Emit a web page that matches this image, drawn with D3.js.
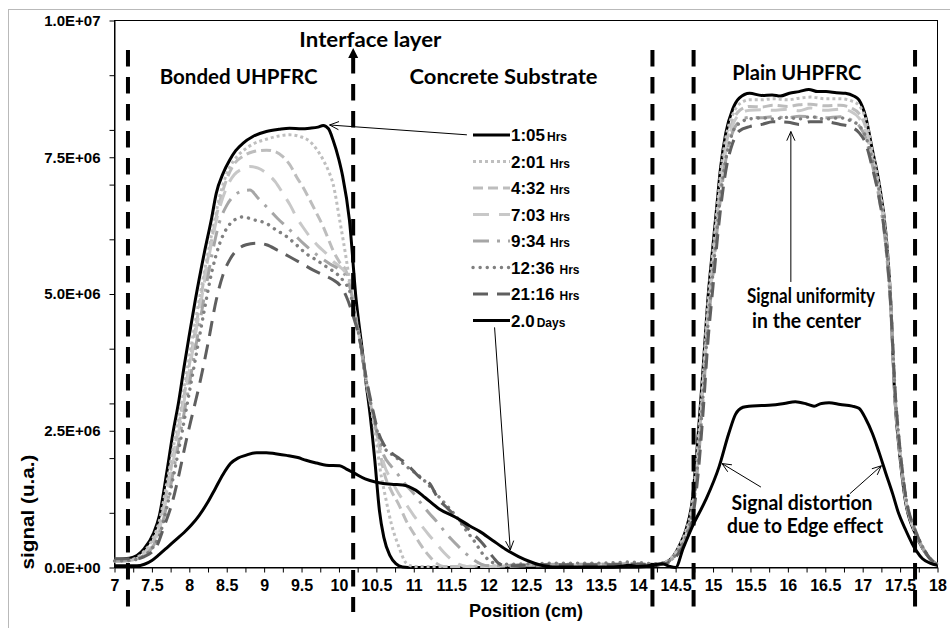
<!DOCTYPE html>
<html><head><meta charset="utf-8">
<script src="https://cdn.jsdelivr.net/npm/d3@7/dist/d3.min.js"></script>
<style>body{margin:0;background:#fff}svg{display:block}</style>
</head><body><svg id="c" width="950" height="628"></svg>
<script>
// ---------------- DATA ----------------
const seriesTimes = ["1:05","2:01","4:32","7:03","9:34","12:36","21:16","2.0"];
const seriesUnits = ["Hrs","Hrs","Hrs","Hrs","Hrs","Hrs","Hrs","Days"];

// [position (cm), signal (1e6 u.a.)]
const s0105 = [[7.0,0.15],[7.2,0.17],[7.3,0.22],[7.4,0.35],[7.52,0.62],[7.6,0.95],[7.7,1.75],[7.78,2.45],[7.86,3.05],[7.93,3.67],[8.0,4.25],[8.08,4.89],[8.2,5.75],[8.3,6.4],[8.36,6.84],[8.45,7.2],[8.54,7.45],[8.62,7.62],[8.72,7.76],[8.85,7.88],[9.03,7.97],[9.2,8.01],[9.34,8.03],[9.5,8.02],[9.61,8.03],[9.72,8.05],[9.79,8.08],[9.86,8.02],[9.92,7.82],[10.0,7.45],[10.05,7.15],[10.14,6.35],[10.23,4.89],[10.3,4.1],[10.36,3.4],[10.42,2.75],[10.48,1.95],[10.54,1.05],[10.6,0.55],[10.68,0.22],[10.76,0.07],[10.85,0.01],[11.0,0],[12.0,0],[13.0,0],[14.0,0.01],[14.2,0.03],[14.35,0.08],[14.46,0.19],[14.55,0.4],[14.64,0.7],[14.72,1.2],[14.8,2.4],[14.87,3.7],[14.93,4.89],[15.0,5.9],[15.05,6.6],[15.1,7.3],[15.17,7.94],[15.26,8.37],[15.35,8.58],[15.49,8.67],[15.65,8.63],[15.79,8.64],[15.9,8.62],[16.02,8.67],[16.15,8.7],[16.28,8.74],[16.4,8.7],[16.51,8.7],[16.65,8.68],[16.77,8.67],[16.88,8.62],[16.95,8.55],[17.04,8.24],[17.13,7.63],[17.22,7.02],[17.31,6.11],[17.37,5.0],[17.43,3.1],[17.5,2.0],[17.57,1.23],[17.71,0.6],[17.8,0.35],[17.88,0.19],[18.0,0.04]];
const s0201 = [[7.0,0.12],[7.2,0.14],[7.3,0.18],[7.4,0.3],[7.52,0.55],[7.6,0.85],[7.7,1.55],[7.8,2.3],[7.9,3.05],[8.0,3.85],[8.1,4.65],[8.2,5.4],[8.3,6.1],[8.4,6.75],[8.5,7.2],[8.6,7.45],[8.72,7.62],[8.85,7.74],[9.03,7.83],[9.2,7.89],[9.34,7.91],[9.5,7.87],[9.61,7.79],[9.7,7.65],[9.79,7.45],[9.86,7.25],[9.92,7.02],[10.01,6.35],[10.1,5.62],[10.16,5.07],[10.22,4.6],[10.28,4.15],[10.36,3.43],[10.45,2.75],[10.5,2.3],[10.55,1.8],[10.62,1.3],[10.7,0.8],[10.8,0.38],[10.9,0.08],[11.0,0.02],[11.5,0.02],[12.0,0.03],[12.5,0.05],[13.0,0.05],[13.5,0.06],[14.0,0.07],[14.2,0.06],[14.35,0.09],[14.46,0.2],[14.55,0.4],[14.64,0.68],[14.72,1.15],[14.8,2.3],[14.87,3.6],[14.93,4.8],[15.0,5.8],[15.05,6.5],[15.1,7.2],[15.17,7.85],[15.26,8.27],[15.35,8.47],[15.49,8.55],[15.65,8.55],[15.8,8.57],[16.0,8.55],[16.15,8.58],[16.3,8.6],[16.5,8.57],[16.7,8.57],[16.85,8.53],[16.95,8.45],[17.04,8.2],[17.13,7.6],[17.22,7.0],[17.31,6.1],[17.37,5.0],[17.43,3.15],[17.5,2.05],[17.57,1.28],[17.71,0.62],[17.8,0.36],[17.88,0.2],[18.0,0.05]];
const s0432 = [[7.0,0.12],[7.2,0.13],[7.3,0.16],[7.4,0.26],[7.52,0.48],[7.6,0.75],[7.7,1.4],[7.8,2.15],[7.9,2.9],[8.0,3.7],[8.1,4.5],[8.2,5.3],[8.3,6.0],[8.4,6.65],[8.5,7.1],[8.6,7.38],[8.72,7.52],[8.85,7.6],[9.03,7.63],[9.15,7.6],[9.25,7.51],[9.35,7.35],[9.43,7.15],[9.52,6.95],[9.61,6.72],[9.7,6.48],[9.79,6.23],[9.86,6.0],[9.92,5.8],[10.0,5.6],[10.1,5.4],[10.16,5.1],[10.22,4.6],[10.28,4.15],[10.36,3.45],[10.45,2.8],[10.52,2.35],[10.6,1.75],[10.7,1.4],[10.8,1.15],[10.9,0.85],[11.0,0.62],[11.1,0.4],[11.2,0.22],[11.3,0.08],[11.4,0.02],[12.0,0.02],[12.5,0.04],[13.0,0.04],[13.5,0.05],[14.0,0.06],[14.2,0.05],[14.35,0.08],[14.46,0.18],[14.55,0.36],[14.64,0.62],[14.72,1.05],[14.8,2.1],[14.87,3.4],[14.93,4.6],[15.0,5.6],[15.05,6.35],[15.1,7.0],[15.17,7.7],[15.26,8.15],[15.35,8.35],[15.49,8.43],[15.65,8.42],[15.8,8.45],[16.0,8.43],[16.15,8.46],[16.3,8.47],[16.5,8.44],[16.7,8.45],[16.85,8.4],[16.95,8.3],[17.04,8.05],[17.13,7.5],[17.22,6.9],[17.31,6.0],[17.37,4.95],[17.43,3.2],[17.5,2.1],[17.57,1.3],[17.71,0.63],[17.8,0.37],[17.88,0.2],[18.0,0.05]];
const s0703 = [[7.0,0.12],[7.2,0.13],[7.3,0.15],[7.4,0.24],[7.52,0.45],[7.6,0.7],[7.7,1.3],[7.8,2.05],[7.9,2.8],[8.0,3.6],[8.1,4.4],[8.2,5.2],[8.3,5.95],[8.4,6.55],[8.5,6.95],[8.6,7.18],[8.7,7.28],[8.81,7.33],[8.92,7.3],[9.03,7.21],[9.15,7.05],[9.25,6.84],[9.35,6.62],[9.43,6.41],[9.52,6.22],[9.61,6.05],[9.72,5.88],[9.83,5.74],[9.92,5.6],[10.01,5.5],[10.1,5.35],[10.16,5.1],[10.22,4.62],[10.28,4.15],[10.36,3.45],[10.45,2.82],[10.52,2.4],[10.6,1.9],[10.7,1.6],[10.8,1.35],[10.9,1.15],[11.0,0.95],[11.1,0.77],[11.2,0.6],[11.3,0.44],[11.4,0.28],[11.5,0.15],[11.6,0.06],[11.7,0.02],[12.0,0.02],[12.5,0.03],[13.0,0.04],[13.5,0.04],[14.0,0.05],[14.2,0.05],[14.35,0.08],[14.46,0.17],[14.55,0.34],[14.64,0.6],[14.72,1.0],[14.8,2.0],[14.87,3.3],[14.93,4.5],[15.0,5.5],[15.05,6.25],[15.1,6.9],[15.17,7.6],[15.26,8.08],[15.35,8.28],[15.49,8.36],[15.65,8.37],[15.8,8.36],[16.0,8.38],[16.15,8.35],[16.3,8.4],[16.5,8.36],[16.7,8.38],[16.85,8.33],[16.95,8.22],[17.04,7.98],[17.13,7.45],[17.22,6.85],[17.31,5.95],[17.37,4.9],[17.43,3.2],[17.5,2.1],[17.57,1.3],[17.71,0.63],[17.8,0.37],[17.88,0.2],[18.0,0.05]];
const s0934 = [[7.0,0.12],[7.2,0.13],[7.3,0.15],[7.4,0.22],[7.52,0.4],[7.6,0.62],[7.7,1.15],[7.8,1.85],[7.9,2.6],[8.0,3.35],[8.1,4.15],[8.2,4.95],[8.3,5.7],[8.4,6.3],[8.5,6.62],[8.6,6.8],[8.7,6.88],[8.81,6.9],[8.92,6.75],[9.07,6.54],[9.18,6.38],[9.3,6.23],[9.41,6.08],[9.52,5.93],[9.63,5.8],[9.74,5.68],[9.88,5.55],[10.01,5.44],[10.1,5.3],[10.16,5.05],[10.22,4.6],[10.28,4.15],[10.36,3.45],[10.45,2.82],[10.52,2.4],[10.6,2.05],[10.7,1.85],[10.8,1.68],[10.9,1.5],[11.0,1.35],[11.1,1.17],[11.2,1.0],[11.3,0.85],[11.4,0.68],[11.5,0.52],[11.6,0.38],[11.7,0.25],[11.8,0.14],[11.9,0.06],[12.0,0.03],[12.5,0.05],[13.0,0.06],[13.5,0.06],[14.0,0.07],[14.2,0.06],[14.35,0.08],[14.46,0.16],[14.55,0.32],[14.64,0.55],[14.72,0.95],[14.8,1.9],[14.87,3.15],[14.93,4.35],[15.0,5.35],[15.05,6.1],[15.1,6.75],[15.17,7.45],[15.26,7.95],[15.35,8.15],[15.49,8.23],[15.65,8.22],[15.8,8.24],[16.0,8.22],[16.15,8.25],[16.3,8.24],[16.5,8.22],[16.7,8.24],[16.85,8.18],[16.95,8.08],[17.04,7.85],[17.13,7.35],[17.22,6.75],[17.31,5.85],[17.37,4.85],[17.43,3.2],[17.5,2.1],[17.57,1.3],[17.71,0.63],[17.8,0.37],[17.88,0.2],[18.0,0.05]];
const s1236 = [[7.0,0.12],[7.2,0.13],[7.3,0.15],[7.4,0.22],[7.52,0.38],[7.6,0.58],[7.7,1.1],[7.8,1.75],[7.9,2.45],[8.0,3.2],[8.1,3.95],[8.2,4.7],[8.3,5.4],[8.4,5.9],[8.5,6.2],[8.6,6.35],[8.72,6.41],[8.85,6.36],[9.03,6.29],[9.15,6.18],[9.3,6.05],[9.43,5.9],[9.56,5.74],[9.7,5.62],[9.83,5.5],[9.92,5.42],[10.01,5.32],[10.08,5.2],[10.14,5.07],[10.2,4.7],[10.28,4.15],[10.36,3.45],[10.45,2.85],[10.52,2.45],[10.6,2.2],[10.76,2.02],[10.9,1.85],[11.03,1.72],[11.17,1.55],[11.3,1.35],[11.43,1.15],[11.57,0.93],[11.7,0.68],[11.83,0.44],[11.92,0.25],[12.01,0.13],[12.1,0.07],[12.3,0.06],[12.6,0.07],[13.0,0.08],[13.5,0.08],[13.9,0.1],[14.1,0.08],[14.2,0.07],[14.35,0.09],[14.46,0.17],[14.55,0.33],[14.64,0.58],[14.72,1.0],[14.8,1.95],[14.87,3.2],[14.93,4.4],[15.0,5.4],[15.05,6.15],[15.1,6.8],[15.17,7.45],[15.26,7.95],[15.35,8.12],[15.49,8.2],[15.65,8.22],[15.8,8.2],[16.0,8.23],[16.15,8.2],[16.3,8.24],[16.5,8.2],[16.7,8.22],[16.85,8.16],[16.95,8.08],[17.04,7.88],[17.13,7.45],[17.22,6.9],[17.31,6.0],[17.37,4.95],[17.43,3.3],[17.5,2.15],[17.57,1.35],[17.71,0.65],[17.8,0.38],[17.88,0.2],[18.0,0.05]];
const s2116 = [[7.0,0.16],[7.2,0.16],[7.29,0.16],[7.4,0.2],[7.56,0.38],[7.65,0.7],[7.78,1.23],[7.87,1.75],[7.96,2.33],[8.05,2.85],[8.14,3.37],[8.25,4.1],[8.36,4.89],[8.45,5.35],[8.55,5.65],[8.65,5.82],[8.76,5.9],[8.9,5.93],[9.03,5.9],[9.18,5.8],[9.34,5.68],[9.5,5.56],[9.65,5.44],[9.79,5.35],[9.92,5.26],[10.02,5.15],[10.1,4.95],[10.19,4.6],[10.28,4.15],[10.36,3.5],[10.45,2.9],[10.52,2.5],[10.6,2.25],[10.7,2.1],[10.81,1.99],[10.9,1.9],[11.08,1.65],[11.21,1.54],[11.34,1.23],[11.43,1.11],[11.6,0.88],[11.79,0.62],[11.92,0.44],[12.06,0.19],[12.14,0.07],[12.25,0.03],[12.5,0.04],[13.0,0.05],[13.5,0.05],[14.0,0.06],[14.2,0.05],[14.35,0.07],[14.46,0.14],[14.55,0.28],[14.64,0.5],[14.72,0.85],[14.8,1.7],[14.87,2.9],[14.93,4.1],[15.0,5.15],[15.05,5.9],[15.1,6.55],[15.17,7.25],[15.26,7.75],[15.35,7.98],[15.49,8.06],[15.65,8.1],[15.8,8.15],[16.0,8.14],[16.15,8.1],[16.3,8.15],[16.5,8.15],[16.7,8.1],[16.85,8.05],[16.95,7.95],[17.04,7.75],[17.13,7.3],[17.22,6.75],[17.31,5.9],[17.37,4.9],[17.43,3.3],[17.5,2.15],[17.57,1.35],[17.71,0.66],[17.8,0.38],[17.88,0.2],[18.0,0.05]];
const s2day = [[7.0,0.03],[7.3,0.03],[7.4,0.06],[7.5,0.13],[7.6,0.24],[7.7,0.36],[7.83,0.52],[7.93,0.64],[8.03,0.78],[8.13,0.95],[8.25,1.2],[8.35,1.45],[8.45,1.7],[8.55,1.9],[8.65,2.0],[8.75,2.05],[8.9,2.1],[9.03,2.1],[9.15,2.08],[9.3,2.05],[9.45,2.01],[9.56,1.96],[9.7,1.91],[9.83,1.87],[10.01,1.86],[10.1,1.8],[10.21,1.72],[10.35,1.62],[10.5,1.56],[10.7,1.52],[10.85,1.51],[11.03,1.41],[11.15,1.28],[11.34,1.07],[11.57,0.91],[11.75,0.76],[11.88,0.66],[12.05,0.5],[12.23,0.33],[12.4,0.2],[12.55,0.11],[12.68,0.05],[12.86,0.01],[13.2,0.01],[13.6,0.01],[13.75,0.02],[13.88,0.04],[14.0,0.02],[14.19,0.04],[14.32,0.07],[14.42,0.02],[14.5,0.0],[14.6,0.35],[14.72,0.74],[14.9,1.23],[15.08,1.84],[15.21,2.45],[15.3,2.8],[15.4,2.93],[15.48,2.95],[15.65,2.96],[15.79,2.97],[15.95,3.0],[16.1,3.03],[16.25,2.99],[16.35,2.95],[16.45,3.0],[16.55,3.01],[16.7,2.98],[16.86,2.95],[16.95,2.91],[17.04,2.72],[17.13,2.45],[17.22,2.1],[17.31,1.72],[17.4,1.35],[17.48,0.99],[17.57,0.7],[17.66,0.44],[17.72,0.3],[17.8,0.16],[17.9,0.08],[18.0,0.04]];
const seriesData = [s0105, s0201, s0432, s0703, s0934, s1236, s2116, s2day];

const dividerPositions = [7.18, 10.19, 14.19, 14.74, 17.70];
const yLabelValues = [0, 2.5, 5, 7.5, 10];
const yTickLabels = ["0.0E+00","2.5E+06","5.0E+06","7.5E+06","1.0E+07"];
const yMinorValues = [0,1,2,3,4,5,6,7,8,9,10];
const xLabelValues = [7,7.5,8,8.5,9,9.5,10,10.5,11,11.5,12,12.5,13,13.5,14,14.5,15,15.5,16,16.5,17,17.5,18];
const xTickLabels = ["7","7.5","8","8.5","9","9.5","10","10.5","11","11.5","12","12.5","13","13.5","14","14.5","15","15.5","16","16.5","17","17.5","18"];

// ---------------- STYLES ----------------
const seriesStyles = [
  {stroke:"#000000", width:3,   dash:null,          cap:"butt"},
  {stroke:"#bfbfbf", width:3,   dash:"3,3",         cap:"butt"},
  {stroke:"#bdbdbd", width:3,   dash:"10,5",        cap:"butt"},
  {stroke:"#c8c8c8", width:3,   dash:"16,10",       cap:"butt"},
  {stroke:"#a6a6a6", width:3,   dash:"16,8,3,8",    cap:"butt"},
  {stroke:"#808080", width:3.4, dash:"0.1,7",       cap:"round"},
  {stroke:"#5f5f5f", width:3,   dash:"15,9",        cap:"butt"},
  {stroke:"#000000", width:3,   dash:null,          cap:"butt"}
];
const AX = "'Liberation Sans', Arial, sans-serif";
const AN = "Lato, 'Open Sans', sans-serif";

// ---------------- CHART ----------------
const svg = d3.select("#c");
svg.append("rect").attr("width",950).attr("height",628).attr("fill","#fff");
svg.append("rect").attr("x",8.5).attr("y",9.5).attr("width",980).attr("height",660)
  .attr("fill","none").attr("stroke","#b9b9b9").attr("stroke-width",1);

const x = d3.scaleLinear().domain([7,18]).range([114.5,937.5]);
const y = d3.scaleLinear().domain([0,10]).range([567.5,20.5]);

// axes
const yAxis = d3.axisLeft(y).tickValues(Array.from(new Set(yMinorValues.concat(yLabelValues))))
  .tickSize(5).tickSizeOuter(0).tickPadding(9)
  .tickFormat(d => { const i = yLabelValues.indexOf(d); return i >= 0 ? yTickLabels[i] : ""; });
const gy = svg.append("g").attr("transform",`translate(${x(7)},0)`).call(yAxis);
gy.selectAll("text").attr("font-family",AX).attr("font-weight","bold").attr("font-size","15px").attr("fill","#000");
gy.selectAll("line").attr("stroke","#000");

const xMinor = d3.range(7, 18.001, 0.25);
const xAxis = d3.axisBottom(x).tickValues(xMinor).tickSize(5).tickSizeOuter(0).tickPadding(7)
  .tickFormat(d => { const i = xLabelValues.indexOf(d); return i >= 0 ? xTickLabels[i] : ""; });
const gx = svg.append("g").attr("transform",`translate(0,${y(0)})`).call(xAxis);
gx.selectAll("text").attr("font-family",AX).attr("font-weight","bold").attr("font-size","16px").attr("fill","#000");
gx.selectAll("line").attr("stroke","#000");

// plot frame
svg.append("rect").attr("x",x(7)).attr("y",y(10)).attr("width",x(18)-x(7)).attr("height",y(0)-y(10))
  .attr("fill","none").attr("stroke","#000").attr("stroke-width",1);

// axis titles
svg.append("text").attr("x",526).attr("y",617).attr("text-anchor","middle")
  .attr("font-family",AX).attr("font-weight","bold").attr("font-size","18px").text("Position (cm)");
svg.append("text").attr("transform","translate(34,512) rotate(-90)").attr("text-anchor","middle")
  .attr("font-family",AX).attr("font-weight","bold").attr("font-size","19px")
  .attr("textLength",115).attr("lengthAdjust","spacingAndGlyphs").text("signal (u.a.)");

// series
const line = d3.line().x(d => x(d[0])).y(d => y(d[1])).curve(d3.curveMonotoneX);
const gs = svg.append("g");
seriesData.forEach((s, i) => {
  const st = seriesStyles[i];
  gs.append("path").datum(s).attr("d", line).attr("fill","none")
    .attr("stroke", st.stroke).attr("stroke-width", st.width)
    .attr("stroke-dasharray", st.dash).attr("stroke-linecap", st.cap).attr("stroke-linejoin","round");
});

// dividers
dividerPositions.forEach((p, i) => {
  svg.append("line").attr("x1",x(p)).attr("x2",x(p)).attr("y1", i===1 ? 57 : 50).attr("y2",612)
    .attr("stroke","#000").attr("stroke-width",4).attr("stroke-dasharray","16.5,10.5");
});
svg.append("path").attr("d",`M${x(10.19)-5},58 L${x(10.19)},48 L${x(10.19)+5},58 Z`).attr("fill","#000");

// annotation texts (positions in data units)
const notes = [
  {t:"Bonded UHPFRC", px:8.66, py:8.84, w:158},
  {t:"Interface layer", px:10.42, py:9.51, w:142},
  {t:"Concrete Substrate", px:12.2, py:8.84, w:188},
  {t:"Plain UHPFRC", px:16.12, py:8.92, w:129},
  {t:"Signal uniformity", px:16.31, py:4.83, w:128},
  {t:"in the center", px:16.25, py:4.38, w:109},
  {t:"Signal distortion", px:16.19, py:1.05, w:141},
  {t:"due to Edge effect", px:16.23, py:0.63, w:156}
];
notes.forEach(n => {
  svg.append("text").attr("x",x(n.px)).attr("y",y(n.py)).attr("text-anchor","middle")
    .attr("font-family",AN).attr("font-weight","bold").attr("font-size","20px")
    .attr("textLength",n.w).attr("lengthAdjust","spacingAndGlyphs").text(n.t);
});

// arrows
function arrow(x1,y1,x2,y2){
  const X1=x(x1),Y1=y(y1),X2=x(x2),Y2=y(y2);
  svg.append("line").attr("x1",X1).attr("y1",Y1).attr("x2",X2).attr("y2",Y2).attr("stroke","#000").attr("stroke-width",1);
  const a = Math.atan2(Y1-Y2, X1-X2), L = 10, s = 0.42;
  svg.append("path").attr("d",`M${X2+L*Math.cos(a+s)},${Y2+L*Math.sin(a+s)} L${X2},${Y2} L${X2+L*Math.cos(a-s)},${Y2+L*Math.sin(a-s)}`)
    .attr("fill","none").attr("stroke","#000").attr("stroke-width",1);
}
arrow(11.71, 7.91, 9.875, 8.09);
arrow(12.08, 4.39, 12.29, 0.32);
arrow(16.04, 5.22, 16.04, 7.97);
arrow(15.64, 1.47, 15.12, 1.90);
arrow(16.83, 1.35, 17.25, 1.86);

// legend
const lg = svg.append("g");
const lx0 = 473, lx1 = 510, ly0 = 135, lstep = 26.5;
seriesTimes.forEach((t, i) => {
  const st = seriesStyles[i], yy = ly0 + i*lstep;
  lg.append("line").attr("x1",lx0).attr("x2",lx1).attr("y1",yy).attr("y2",yy)
    .attr("stroke",st.stroke).attr("stroke-width",st.width)
    .attr("stroke-dasharray",st.dash).attr("stroke-linecap",st.cap);
  const tx = lg.append("text").attr("x",lx1+1).attr("y",yy+6)
    .attr("font-family",AX).attr("font-weight","bold").attr("fill","#000");
  tx.append("tspan").attr("font-size","17px").text(t);
  tx.append("tspan").attr("font-size","12px").attr("dx", (i===0||i===7) ? 2 : 5).text(seriesUnits[i]);
});
</script></body></html>
